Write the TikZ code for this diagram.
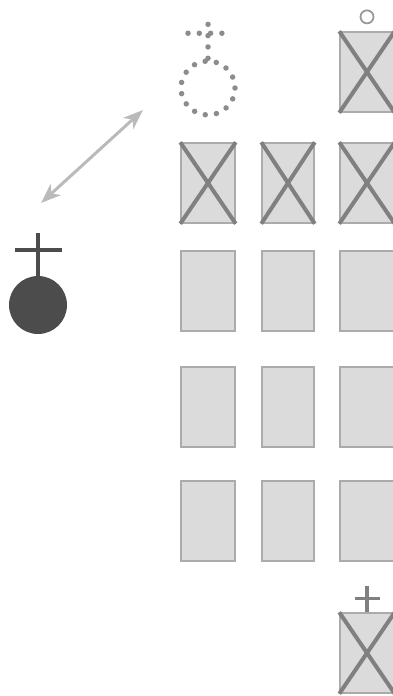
\documentclass[tikz,border=0pt]{standalone}
\usetikzlibrary{arrows.meta,positioning}
\begin{document}
\begin{tikzpicture}[x=1pt,y=-1pt,
   box/.style={rectangle,draw=black!33,fill=black!14,line width=1.5pt,minimum width=54pt,minimum height=80pt,inner sep=0pt},
   xline/.style={draw=black!50,line width=4pt},
   dots/.style={draw=black!45,line width=5.5pt,line cap=round,dash pattern=on 0pt off 11.3pt}]
  \useasboundingbox (0,0) rectangle (392,696);
  % plain boxes
  \foreach \r/\y in {1/291,2/407,3/521}
    \foreach \c/\x/\w in {1/208/54,2/288/52,3/367/54}
      \node[box,minimum width=\w pt](b\r\c) at (\x,\y){};
  % crossed boxes
  \foreach \n/\x/\y/\w in {top/367/72/54,x1/208/183/54,x2/288/183/52,x3/367/183/54,bot/367/653/54}{
    \node[box,minimum width=\w pt](\n) at (\x,\y){};
    \draw[xline](\n.north west)--(\n.south east) (\n.north east)--(\n.south west);}
  \node[circle,draw=black!40,line width=1.8pt,minimum size=13pt,inner sep=0pt,above=7pt of top](ring){};
  \draw[xline,line width=3.5pt](bot.north)--++(0,-26);
  \draw[xline,line width=3.5pt]([shift={(-12,-14)}]bot.north)--++(25,0);
  % ghost figure
  \node[circle,dots,minimum size=54pt,inner sep=0pt](ghost) at (208,88){};
  \draw[dots](ghost.north)--++(0,-45);
  \draw[dots]([shift={(-20,-25)}]ghost.north)--++(40,0);
  % dead figure
  \node[circle,fill=black!70,minimum size=58pt,inner sep=0pt](dead) at (38,305){};
  \draw[black!70,line width=4pt](dead.north)--++(0,-43);
  \draw[black!70,line width=4pt]([shift={(-23,-26)}]dead.north)--++(47,0);
  % arrow
  \coordinate(p) at (41,203);
  \coordinate(q) at (143,110);
  \draw[{Stealth[length=20pt,width=15pt,inset=6pt]}-{Stealth[length=20pt,width=15pt,inset=6pt]},black!27,line width=3pt](p)--(q);
\end{tikzpicture}
\end{document}
